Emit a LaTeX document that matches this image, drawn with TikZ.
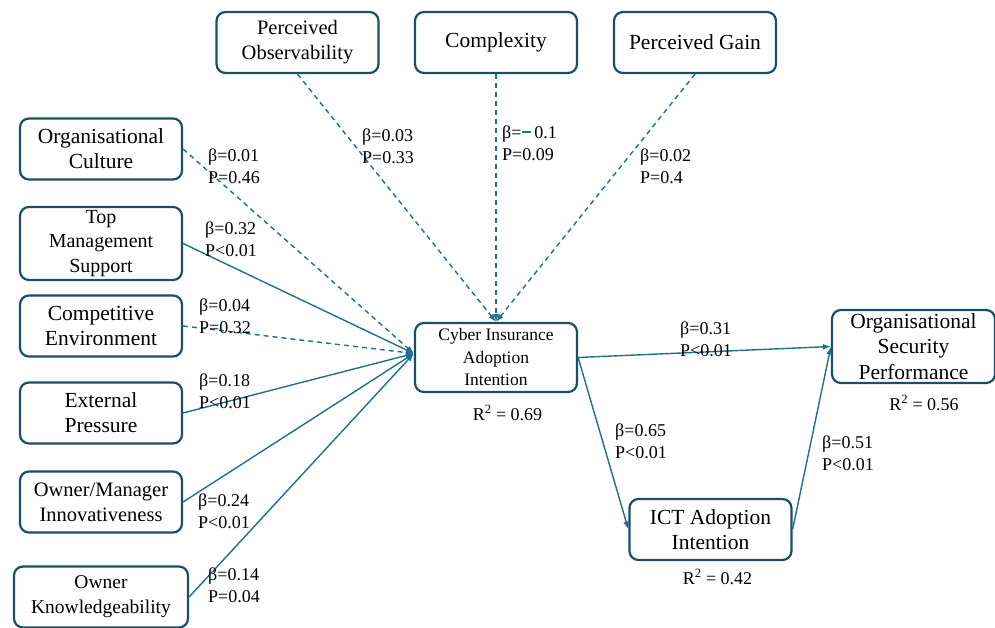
\documentclass[tikz,border=0pt]{standalone}
\usepackage{fontspec}
\setmainfont{Liberation Serif}
\definecolor{frame}{HTML}{1B4F66}
\definecolor{lnk}{HTML}{1F6F8F}
\usetikzlibrary{arrows.meta}
\begin{document}
\begin{tikzpicture}[x=1pt,y=-1pt,
	box/.style={draw=frame,line width=2.2pt,rounded corners=9pt,fill=white,align=center,inner sep=0pt,
		minimum width=162pt,minimum height=61pt,font=\fontsize{21.5}{25}\selectfont},
	stat/.style={anchor=west,align=left,inner sep=0pt,font=\fontsize{18}{22}\selectfont},
	rsq/.style={inner sep=0pt,font=\fontsize{18}{22}\selectfont},
	link/.style={draw=lnk,line width=1.4pt,-{Latex[length=8pt,width=6pt]}},
	ns/.style={dash pattern=on 5pt off 4pt}]
	\useasboundingbox (0,0) rectangle (995,628);
	% top row
	\node[box,font=\fontsize{20.5}{25}\selectfont] (po) at (297.5,42.5) {Perceived\\Observability};
	\node[box] (cx) at (496,42.5) {Complexity};
	\node[box] (pg) at (695,42.5) {Perceived Gain};
	% left column
	\node[box] (oc) at (101,149) {Organisational\\Culture};
	\node[box,minimum height=73pt,font=\fontsize{20}{24.5}\selectfont] (tms) at (101,243.5) {Top\\Management\\Support};
	\node[box] (ce) at (101,326) {Competitive\\Environment};
	\node[box] (ep) at (101,413) {External\\Pressure};
	\node[box,font=\fontsize{20.5}{25}\selectfont] (omi) at (101,502) {Owner/Manager\\Innovativeness};
	\node[box,minimum width=174pt,font=\fontsize{19.5}{25}\selectfont] (ok) at (101,597) {Owner\\Knowledgeability};
	% outcomes
	\node[box,minimum height=69pt,font=\fontsize{17.5}{22.5}\selectfont] (cia) at (496,357.5) {Cyber Insurance\\Adoption\\Intention};
	\node[box,minimum width=163pt,minimum height=73pt,font=\fontsize{21.5}{25.5}\selectfont] (osp) at (913.5,346.5) {Organisational\\Security\\Performance};
	\node[box] (ict) at (710.5,529.5) {ICT Adoption\\Intention};
	% paths
	\foreach \src in {oc,ce}
	\draw[link,ns] (\src.east) -- ([yshift=4pt]cia.west);
	\foreach \src in {tms,ep,omi,ok}
	\draw[link] (\src.east) -- ([yshift=4pt]cia.west);
	\foreach \src in {po,cx,pg}
	\draw[link,ns] (\src.south) -- (cia.north);
	\draw[link] (cia.east) -- (osp.west);
	\draw[link] (cia.east) -- (ict.west);
	\draw[link] (ict.east) -- (osp.west);
	% coefficients
	\node[stat] (s-oc) at (208,166) {β=0.01\\P=0.46};
	\node[stat] (s-tms) at (205,239) {β=0.32\\P<0.01};
	\node[stat] (s-ce) at (199,316.5) {β=0.04\\P=0.32};
	\node[stat] (s-ep) at (199,391.5) {β=0.18\\P<0.01};
	\node[stat] (s-omi) at (198,511) {β=0.24\\P<0.01};
	\node[stat] (s-ok) at (208,585) {β=0.14\\P=0.04};
	\node[stat] (s-po) at (362,146.5) {β=0.03\\P=0.33};
	\node[stat] (s-cx) at (502,143) {β={\color{lnk}\rule[0.28em]{0.55em}{1.8pt}}\,0.1\\P=0.09};
	\node[stat] (s-pg) at (640,166) {β=0.02\\P=0.4};
	\node[stat] (s-osp) at (680,339) {β=0.31\\P<0.01};
	\node[stat] (s-ict) at (615,441) {β=0.65\\P<0.01};
	\node[stat] (s-io) at (822,453.5) {β=0.51\\P<0.01};
	% explained variance
	\node[rsq] (r-cia) at (507.5,413) {R\textsuperscript{2} = 0.69};
	\node[rsq] (r-osp) at (924,403) {R\textsuperscript{2} = 0.56};
	\node[rsq] (r-ict) at (717.5,577) {R\textsuperscript{2} = 0.42};
\end{tikzpicture}
\end{document}
